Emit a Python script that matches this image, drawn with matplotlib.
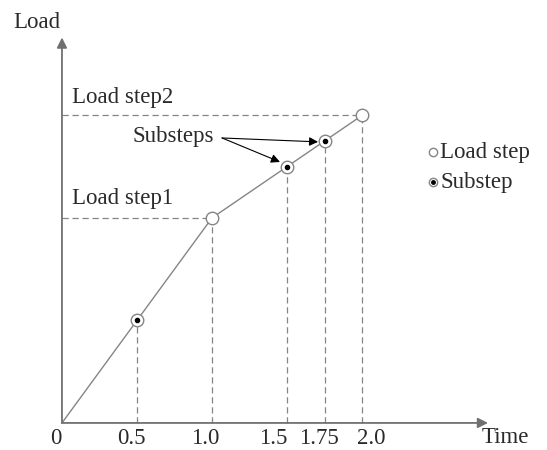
import matplotlib
matplotlib.use('Agg')
from matplotlib import pyplot as plt

# load curve: time vs load
times = [0, 0.5, 1.0, 1.5, 1.75, 2.0]
loads = [0, 0.5, 1.0, 1.25, 1.375, 1.5]
tick_labels = ['0', '0.5', '1.0', '1.5', '1.75', '2.0']
step_times = [1.0, 2.0]
step_loads = [1.0, 1.5]
sub_times = [0.5, 1.5, 1.75]
sub_loads = [0.5, 1.25, 1.375]

plt.rcParams['font.family'] = ['Liberation Serif', 'DejaVu Serif']
gray = '#858585'
txt = '#2a2a2a'
fs = 16.5

fig = plt.figure(figsize=(5.47, 4.5), dpi=100)
ax = fig.add_axes([0, 0, 1, 1])
ax.set_xlim(-0.413, 3.233)
ax.set_ylim(-0.132, 2.063)
ax.axis('off')

# axes with arrows
arrow = dict(arrowstyle='-|>', color='#707070', lw=1.3, mutation_scale=15, shrinkA=0, shrinkB=0)
ax.annotate('', xy=(2.84, 0), xytext=(0, 0), arrowprops=arrow)
ax.annotate('', xy=(0, 1.88), xytext=(0, 0), arrowprops=arrow)

# dashed guide lines
for t, l in zip(times[1:], loads[1:]):
    ax.plot([t, t], [0, l], ls=(0, (5, 3)), color=gray, lw=0.9)
for t, l in zip(step_times, step_loads):
    ax.plot([0, t], [l, l], ls=(0, (5, 3)), color=gray, lw=0.9)

# the load path
ax.plot(times, loads, color=gray, lw=1.0)

# markers
ax.plot(step_times, step_loads, 'o', ms=9, mfc='white', mec=gray, mew=1.0)
ax.plot(sub_times, sub_loads, 'o', ms=9, mfc='white', mec=gray, mew=1.0)
ax.plot(sub_times, sub_loads, 'o', ms=3, color='black')

# tick labels (small pixel nudges as in the original drawing)
nudges = [-6, -6, -7, -14, -6, 9]
for t, lab, dx in zip(times, tick_labels, nudges):
    ax.annotate(lab, xy=(t, 0), xytext=(dx * 0.72, -16 * 0.72), textcoords='offset points',
                ha='center', va='center', fontsize=fs, color=txt)
ax.text(2.957, -0.072, 'Time', ha='center', va='center', fontsize=fs, color=txt)
ax.text(-0.327, 1.955, 'Load', ha='left', va='center', fontsize=fs, color=txt)

ax.text(0.067, 1.585, 'Load step2', ha='left', va='center', fontsize=fs, color=txt)
ax.text(0.067, 1.093, 'Load step1', ha='left', va='center', fontsize=fs, color=txt)

# substep annotation
ax.text(0.473, 1.395, 'Substeps', ha='left', va='center', fontsize=fs, color=txt)
pointer = dict(arrowstyle='-|>', color='black', lw=0.8, mutation_scale=13, shrinkA=0, shrinkB=0)
ax.annotate('', xy=(1.707, 1.371), xytext=(1.067, 1.39), arrowprops=pointer)
ax.annotate('', xy=(1.453, 1.273), xytext=(1.067, 1.39), arrowprops=pointer)

# legend
ax.plot([2.473], [1.32], 'o', ms=6, mfc='white', mec=gray, mew=1.0)
ax.plot([2.473], [1.175], 'o', ms=6, mfc='white', mec=gray, mew=1.0)
ax.plot([2.473], [1.175], 'o', ms=2.5, color='black')
ax.text(2.52, 1.32, 'Load step', ha='left', va='center', fontsize=fs, color=txt)
ax.text(2.52, 1.175, 'Substep', ha='left', va='center', fontsize=fs, color=txt)

fig.savefig('out.png', dpi=100)
